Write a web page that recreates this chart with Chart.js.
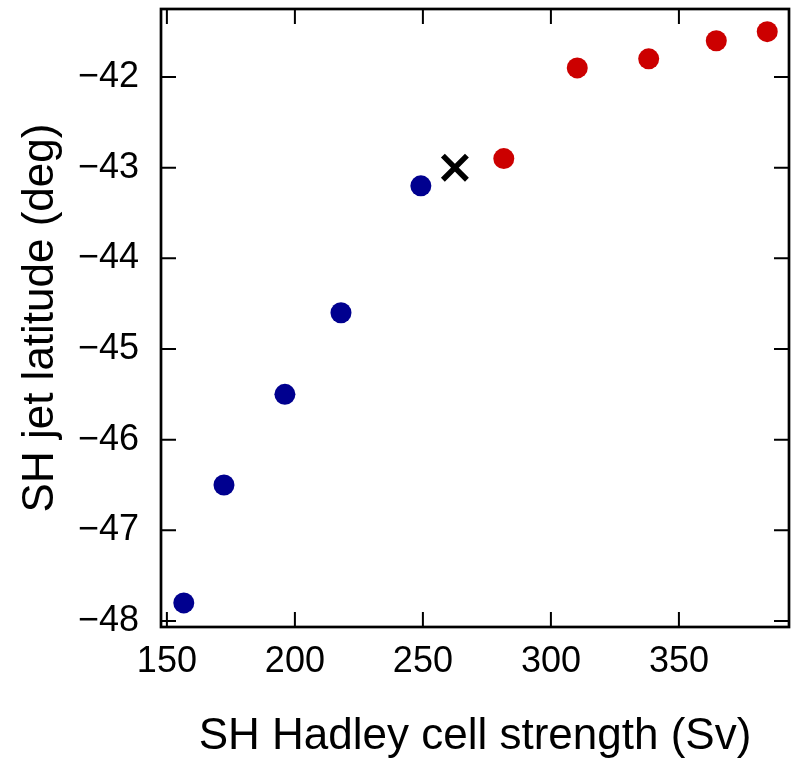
<!DOCTYPE html>
<html>
<head>
<meta charset="utf-8">
<script src="https://cdn.jsdelivr.net/npm/chart.js@4"></script>
<style>
    body { margin: 0; background: #fff; }
    #wrap { width: 799px; height: 763px; }
</style>
</head>
<body>
<div id="wrap"><canvas id="hadleyChart"></canvas></div>
<script>
// Datos
const blueX = [156.6, 172.3, 196.1, 218.0, 249.2];
const blueY = [-47.8, -46.5, -45.5, -44.6, -43.2];
const redX = [281.6, 310.3, 338.2, 364.6, 384.5];
const redY = [-42.9, -41.9, -41.8, -41.6, -41.5];
const crossX = [262.5];
const crossY = [-43.0];
const xTicks = [150, 200, 250, 300, 350];
const yTicks = [-48, -47, -46, -45, -44, -43, -42];

function toPoints(xs, ys) {
    return xs.map((x, i) => ({ x: x, y: ys[i] }));
}

// Marco y marcas hacia dentro en los cuatro lados
const framePlugin = {
    id: 'frame',
    afterDraw(chart) {
        const { ctx, chartArea: a, scales } = chart;
        const len = 15;
        ctx.save();
        ctx.strokeStyle = '#000';
        ctx.lineWidth = 2;
        ctx.beginPath();
        xTicks.forEach(v => {
            const px = scales.x.getPixelForValue(v);
            ctx.moveTo(px, a.bottom); ctx.lineTo(px, a.bottom - len);
            ctx.moveTo(px, a.top); ctx.lineTo(px, a.top + len);
        });
        yTicks.forEach(v => {
            const py = scales.y.getPixelForValue(v);
            ctx.moveTo(a.left, py); ctx.lineTo(a.left + len, py);
            ctx.moveTo(a.right, py); ctx.lineTo(a.right - len, py);
        });
        ctx.stroke();
        ctx.lineWidth = 2.7;
        ctx.strokeRect(a.left, a.top, a.right - a.left, a.bottom - a.top);
        ctx.restore();
    }
};

const tickFont = { family: "'Liberation Sans', Arial, sans-serif", size: 36 };
const titleFont = { family: "'Liberation Sans', Arial, sans-serif", size: 44 };

// Quitar el relleno automático de las etiquetas extremas
function noEdgePadding(scale) {
    scale.paddingTop = 0;
    scale.paddingBottom = 0;
    scale.paddingLeft = 0;
    scale.paddingRight = 0;
}

new Chart(document.getElementById('hadleyChart'), {
    type: 'scatter',
    data: {
        datasets: [
            {
                data: toPoints(blueX, blueY),
                pointStyle: 'circle',
                pointRadius: 10.5,
                backgroundColor: '#00008f',
                borderWidth: 0
            },
            {
                data: toPoints(redX, redY),
                pointStyle: 'circle',
                pointRadius: 10.5,
                backgroundColor: '#cc0000',
                borderWidth: 0
            },
            {
                data: toPoints(crossX, crossY),
                pointStyle: 'crossRot',
                pointRadius: 17,
                borderColor: '#000',
                borderWidth: 5.5
            }
        ]
    },
    options: {
        responsive: true,
        maintainAspectRatio: false,
        animation: false,
        layout: { autoPadding: false, padding: { top: 9, right: 10, left: 0, bottom: 0 } },
        plugins: {
            legend: { display: false },
            tooltip: { enabled: false }
        },
        scales: {
            x: {
                type: 'linear',
                min: 147.7,
                max: 393,
                grid: { display: false },
                border: { display: false },
                afterFit(scale) { scale.height = 136; noEdgePadding(scale); },
                afterBuildTicks(scale) { scale.ticks = xTicks.map(v => ({ value: v })); },
                ticks: {
                    color: '#000',
                    font: tickFont,
                    padding: 5,
                    maxRotation: 0,
                    callback: v => String(v)
                },
                title: {
                    display: true,
                    text: 'SH Hadley cell strength (Sv)',
                    color: '#000',
                    font: titleFont,
                    padding: { top: 0, bottom: 0 }
                }
            },
            y: {
                type: 'linear',
                min: -48.066,
                max: -41.25,
                grid: { display: false },
                border: { display: false },
                afterFit(scale) { scale.width = 161; noEdgePadding(scale); },
                afterBuildTicks(scale) { scale.ticks = yTicks.map(v => ({ value: v })); },
                ticks: {
                    color: '#000',
                    font: tickFont,
                    padding: 14,
                    callback: v => (v < 0 ? '\u2212' + Math.abs(v) : String(v))
                },
                title: {
                    display: true,
                    text: 'SH jet latitude (deg)',
                    color: '#000',
                    font: titleFont,
                    padding: { top: 14, bottom: 0 }
                }
            }
        }
    },
    plugins: [framePlugin]
});
</script>
</body>
</html>
